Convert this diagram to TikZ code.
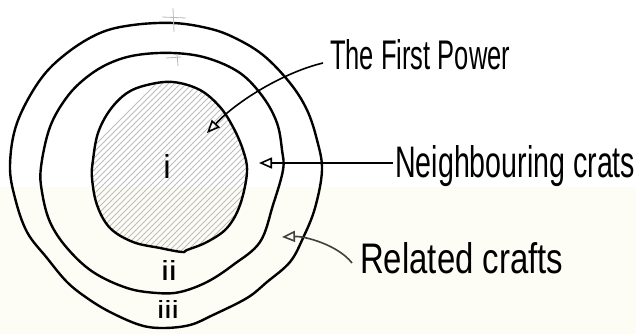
\documentclass[tikz,border=0pt]{standalone}
\usepackage{fontspec}
\setmainfont{Liberation Sans}
\usetikzlibrary{arrows.meta}
\definecolor{paper}{RGB}{253,253,246}
\definecolor{hatch}{RGB}{190,190,190}
\tikzset{
  ring/.style={draw=black, line width=2.4pt, line join=round},
  arr/.style={draw=black, line width=1.6pt, -{Triangle[open,length=13pt,width=11pt,line width=1.6pt]}},
  hand/.style={inner sep=0pt, text=black},
  pencil/.style={draw=gray!55, line width=0.8pt},
}
\begin{document}
\begin{tikzpicture}[x=1pt,y=-1pt]
\useasboundingbox (0,0) rectangle (636,334);
\fill[white] (0,0) rectangle (636,187);
\fill[paper] (0,187) rectangle (636,334);

% inner shape (hatched)
\def\innerpath{plot[smooth cycle, tension=0.6] coordinates {
 (173,82) (200,90) (220,107) (233,127) (243,150) (247,172) (240,205) (227,228)
 (207,242) (187,250) (182,252) (160,248) (133,242) (110,228) (97,205) (92,178)
 (93,160) (98,133) (110,110) (127,93) (147,85)}}
\begin{scope}
  \clip \innerpath;
  \foreach \k in {-20,-14,...,520} {
    \draw[hatch, line width=0.8pt] (\k,260) -- (\k+190,70);
  }
\end{scope}
\draw[ring] \innerpath;

% middle ring
\draw[ring] plot[smooth cycle, tension=0.6] coordinates {
 (173,53) (207,58) (240,73) (263,97) (277,123) (282,150) (283,170) (273,205)
 (260,242) (233,265) (207,282) (180,292) (157,293) (127,288) (93,272) (67,248)
 (50,222) (42,192) (41,167) (50,127) (67,97) (87,77) (110,63) (137,55)};

% outer ring
\draw[ring] plot[smooth cycle, tension=0.6] coordinates {
 (173,23) (207,28) (233,37) (263,55) (290,83) (307,110) (317,140) (322,170)
 (315,208) (303,238) (290,262) (267,282) (247,298) (213,315) (190,325) (163,328)
 (140,325) (110,312) (87,298) (67,282) (47,258) (27,232) (15,198) (10,165)
 (17,123) (40,80) (67,53) (100,33) (133,25)};

% faint pencil crosses
\draw[pencil] (162,17) -- (186,18);
\draw[pencil] (173,8) -- (174,32);
\draw[pencil] (166,58) -- (181,57);
\draw[pencil] (177,54) -- (178,66);

% roman numerals
\node[hand, anchor=base] (r1) at (167,178) {\resizebox{!}{24pt}{i}};
\node[hand, anchor=base] (r2) at (169,280) {\resizebox{16pt}{20pt}{ii}};
\node[hand, anchor=base] (r3) at (168,318) {\resizebox{22pt}{18pt}{iii}};

% labels
\node[hand, anchor=base west] (fp) at (330,70) {\resizebox{180pt}{30pt}{The First Power}};
\node[hand, anchor=base west] (nc) at (395,177) {\resizebox{240pt}{32pt}{Neighbouring crats}};
\node[hand, anchor=base west] (rc) at (360,273) {\resizebox{203pt}{31pt}{Related crafts}};

% arrow ends
\coordinate (fpS) at (323,63);
\coordinate (fpT) at (207,133);
\coordinate (ncS) at (393,163);
\coordinate (ncT) at (259,163);
\coordinate (rcS) at (352,263);
\coordinate (rcT) at (282,237);

\draw[arr] (fpS) .. controls (285,72) and (238,100) .. (fpT);
\draw[arr] (ncS) -- (ncT);
\draw[arr, draw=black!75] (rcS) .. controls (338,245) and (305,236) .. (rcT);
\end{tikzpicture}
\end{document}
